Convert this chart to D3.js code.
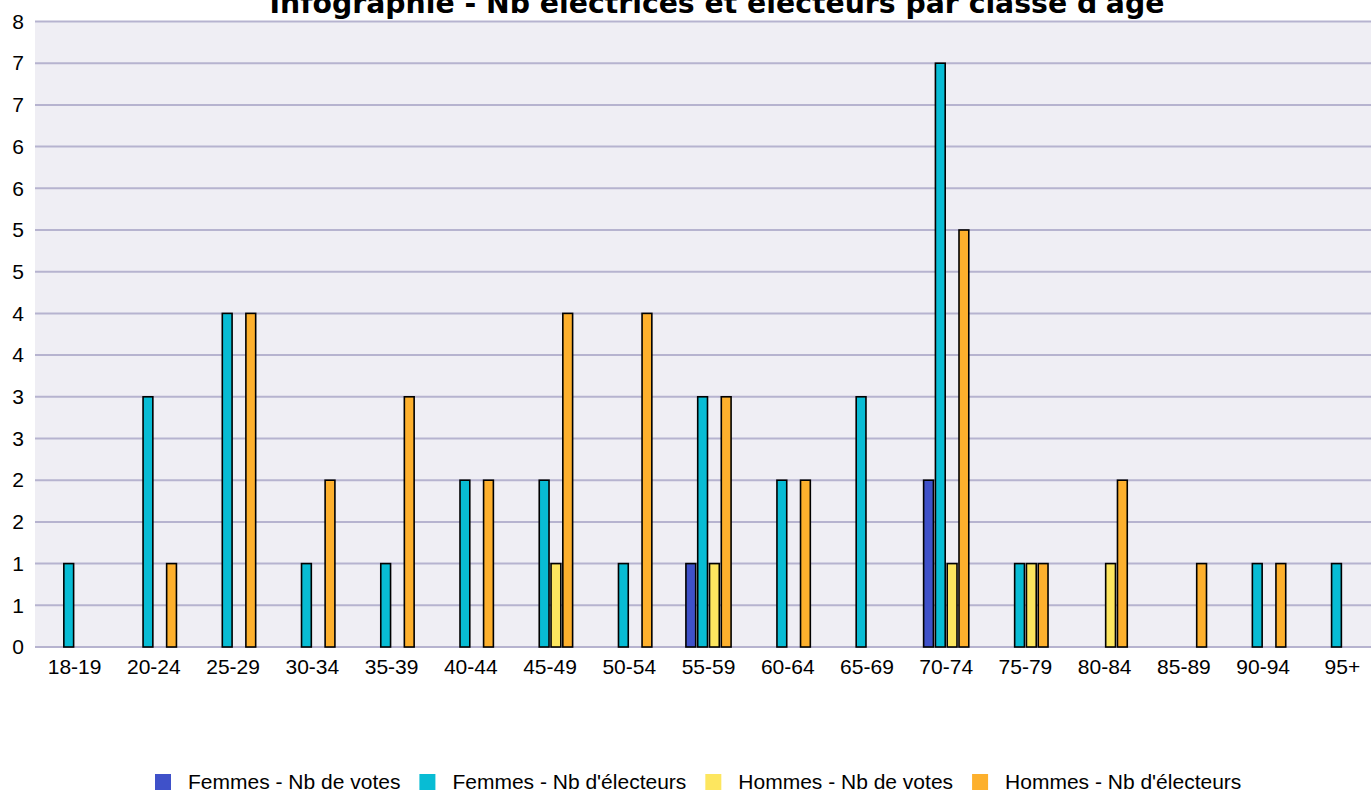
<!DOCTYPE html>
<html>
<head>
<meta charset="utf-8">
<script src="https://cdn.jsdelivr.net/npm/d3@7"></script>
<style>
  body { margin: 0; background: #fff; }
  svg { display: block; }
</style>
</head>
<body>
<svg id="chart" width="1371" height="791"></svg>
<script>
const categories = ['18-19', '20-24', '25-29', '30-34', '35-39', '40-44', '45-49', '50-54', '55-59',
    '60-64', '65-69', '70-74', '75-79', '80-84', '85-89', '90-94', '95+'];
const femmesVotes     = [0, 0, 0, 0, 0, 0, 0, 0, 1, 0, 0, 2, 0, 0, 0, 0, 0];
const femmesElecteurs = [1, 3, 4, 1, 1, 2, 2, 1, 3, 2, 3, 7, 1, 0, 0, 1, 1];
const hommesVotes     = [0, 0, 0, 0, 0, 0, 1, 0, 1, 0, 0, 1, 1, 1, 0, 0, 0];
const hommesElecteurs = [0, 1, 4, 2, 3, 2, 4, 4, 3, 2, 0, 5, 1, 2, 1, 1, 0];
const seriesNames = ['Femmes - Nb de votes', 'Femmes - Nb d\'électeurs', 'Hommes - Nb de votes', 'Hommes - Nb d\'électeurs'];
const seriesColors = ['#3f51c9', '#08bcd4', '#fde65f', '#fdb02d'];
const yTicks = [0, 0.5, 1, 1.5, 2, 2.5, 3, 3.5, 4, 4.5, 5, 5.5, 6, 6.5, 7, 7.5];
const title = 'Infographie - Nb électrices et électeurs par classe d\'âge';

const allSeries = [femmesVotes, femmesElecteurs, hommesVotes, hommesElecteurs];

let svg = d3.select('#chart');
let plotLeft = 35, plotRight = 1382, plotTop = 21.5, plotBottom = 647;

let x0 = d3.scaleBand()
    .domain(categories)
    .range([plotLeft, plotRight])
    .padding(0);

let x1 = d3.scaleBand()
    .domain(d3.range(4))
    .range([x0.bandwidth() * 0.215, x0.bandwidth() * 0.785])
    .paddingInner(0.17);

let y = d3.scaleLinear()
    .domain([0, 7.5])
    .range([plotBottom, plotTop]);

// plot background
svg.append('rect')
    .attr('x', plotLeft)
    .attr('y', plotTop)
    .attr('width', plotRight - plotLeft)
    .attr('height', plotBottom - plotTop)
    .attr('fill', '#efeef4');

// grid
svg.append('g')
    .selectAll('line')
    .data(yTicks)
    .enter().append('line')
    .attr('x1', plotLeft)
    .attr('x2', plotRight)
    .attr('y1', d => y(d))
    .attr('y2', d => y(d))
    .attr('stroke', '#b6b3cf')
    .attr('stroke-width', 2);

// y labels
let yAxis = d3.axisLeft(y)
    .tickValues(yTicks)
    .tickFormat(d => Math.round(d))
    .tickSize(0)
    .tickPadding(11);

svg.append('g')
    .attr('transform', `translate(${plotLeft},0)`)
    .call(yAxis)
    .call(g => g.select('.domain').remove())
    .selectAll('text')
    .attr('font-family', 'Liberation Sans, Arial, sans-serif')
    .attr('font-size', 21)
    .attr('fill', '#000');

// x labels
let xAxis = d3.axisBottom(x0)
    .tickSize(0)
    .tickPadding(12);

svg.append('g')
    .attr('transform', `translate(0,${plotBottom})`)
    .call(xAxis)
    .call(g => g.select('.domain').remove())
    .selectAll('text')
    .attr('font-family', 'Liberation Sans, Arial, sans-serif')
    .attr('font-size', 21)
    .attr('fill', '#000');

// bars
let rows = [];
categories.forEach((c, i) => {
    allSeries.forEach((s, j) => {
        if (s[i] > 0) rows.push({ cat: c, series: j, value: s[i] });
    });
});

svg.append('g')
    .selectAll('rect')
    .data(rows)
    .enter().append('rect')
    .attr('x', d => x0(d.cat) + x1(d.series))
    .attr('y', d => y(d.value))
    .attr('width', x1.bandwidth())
    .attr('height', d => plotBottom - y(d.value))
    .attr('fill', d => seriesColors[d.series])
    .attr('stroke', '#000')
    .attr('stroke-width', 1.6);

// title (cut at the top edge, as in the original)
svg.append('text')
    .attr('x', 717)
    .attr('y', 12.5)
    .attr('text-anchor', 'middle')
    .attr('font-family', 'DejaVu Sans, Verdana, sans-serif')
    .attr('font-weight', 'bold')
    .attr('font-size', 28.3)
    .attr('fill', '#000')
    .text(title);

// legend
let legend = svg.append('g');
let lx = 155;
seriesNames.forEach((name, i) => {
    legend.append('rect')
        .attr('x', lx)
        .attr('y', 774)
        .attr('width', 16)
        .attr('height', 16)
        .attr('fill', seriesColors[i]);
    let t = legend.append('text')
        .attr('x', lx + 33)
        .attr('y', 789)
        .attr('font-family', 'Liberation Sans, Arial, sans-serif')
        .attr('font-size', 21)
        .attr('fill', '#000')
        .text(name);
    lx += 33 + t.node().getComputedTextLength() + 19;
});
</script>
</body>
</html>
